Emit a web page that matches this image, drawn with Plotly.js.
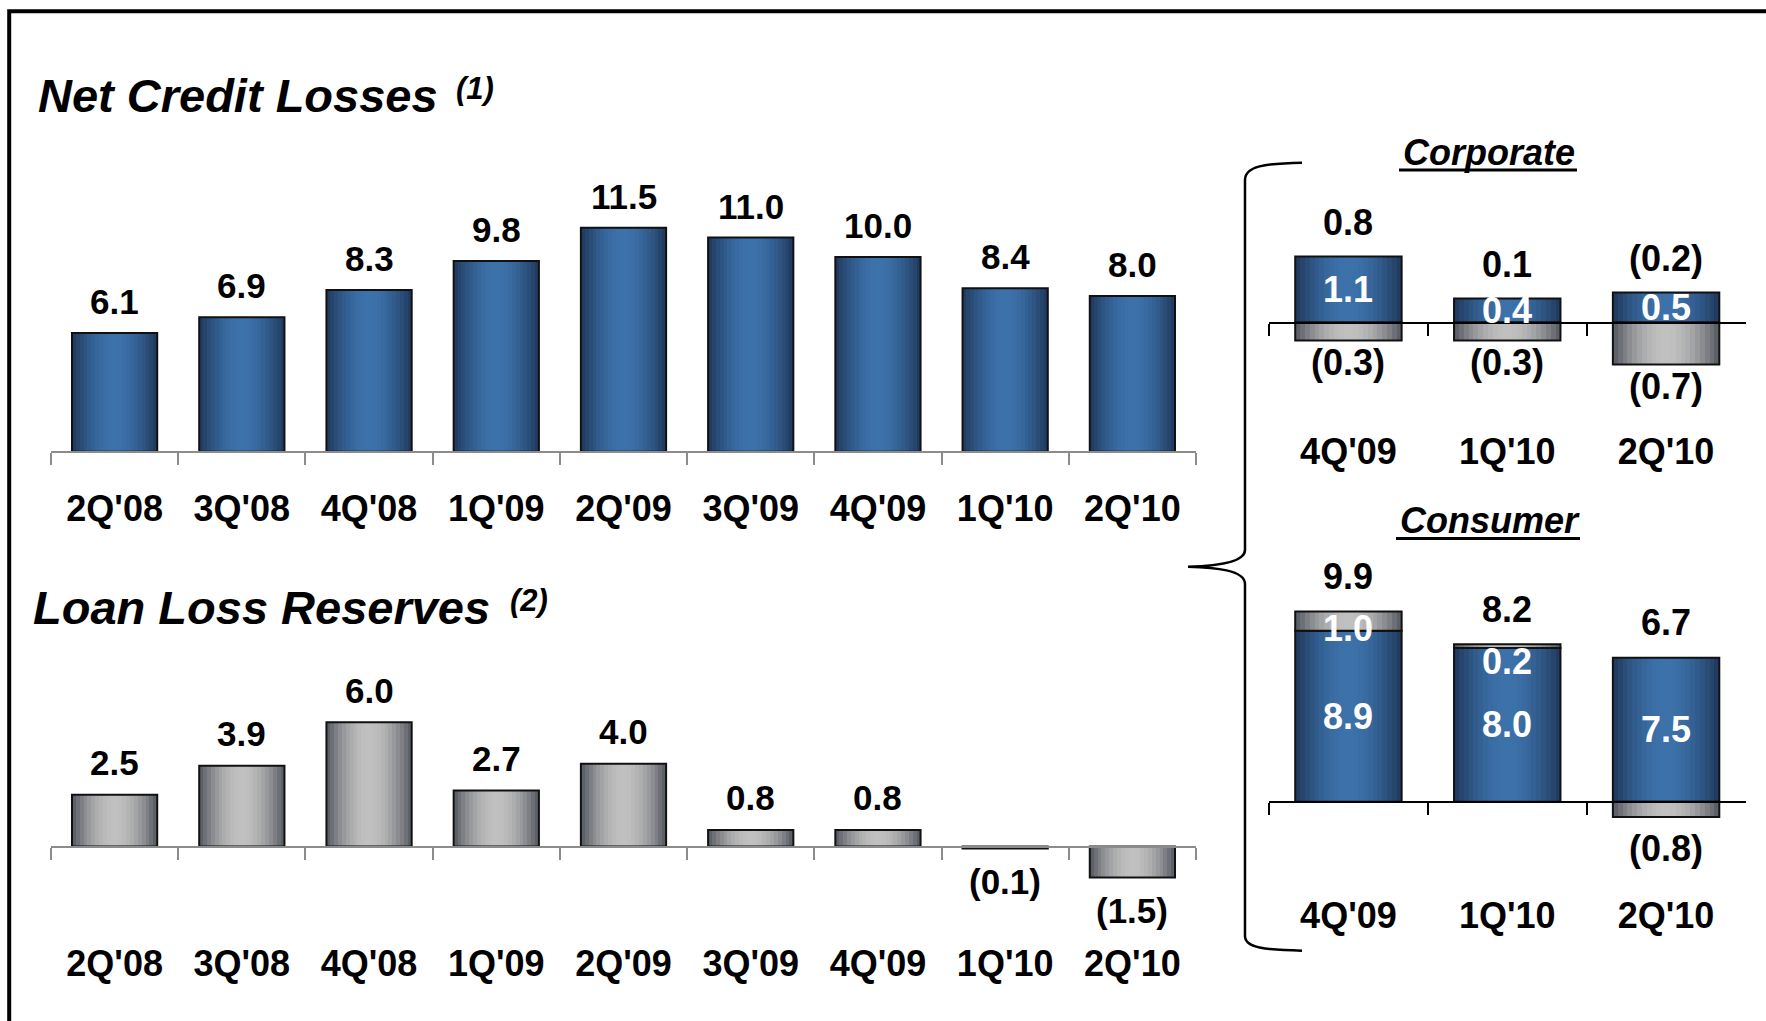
<!DOCTYPE html>
<html><head><meta charset="utf-8">
<script src="https://cdn.plot.ly/plotly-3.0.1.min.js"></script>
<style>html,body{margin:0;padding:0;background:#fff;}#chart{width:1766px;height:1021px;}</style>
</head><body><div id="chart"></div>
<script>
// ---------------- data ----------------
const nclQuarters = ["2Q'08","3Q'08","4Q'08","1Q'09","2Q'09","3Q'09","4Q'09","1Q'10","2Q'10"];
const nclValues   = [6.1, 6.9, 8.3, 9.8, 11.5, 11.0, 10.0, 8.4, 8.0];
const llrQuarters = ["2Q'08","3Q'08","4Q'08","1Q'09","2Q'09","3Q'09","4Q'09","1Q'10","2Q'10"];
const llrValues   = [2.5, 3.9, 6.0, 2.7, 4.0, 0.8, 0.8, -0.1, -1.5];
const segQuarters = ["4Q'09","1Q'10","2Q'10"];
const corpNcl   = [1.1, 0.4, 0.5];
const corpLlr   = [-0.3, -0.3, -0.7];
const corpTotal = [0.8, 0.1, -0.2];
const consNcl   = [8.9, 8.0, 7.5];
const consLlr   = [1.0, 0.2, -0.8];
const consTotal = [9.9, 8.2, 6.7];

// ---------------- helpers ----------------
const W = 1766, H = 1021;
const FONT = 'Liberation Sans, Arial, sans-serif';
const px2x = p => p / W;
const px2y = p => 1 - p / H;
const fmt = v => v < 0 ? '(' + Math.abs(v).toFixed(1) + ')' : v.toFixed(1);
const BLUE_DARK = [31, 54, 88], BLUE_LIGHT = [60, 113, 170];
const GRAY_DARK = [82, 86, 94], GRAY_LIGHT = [192, 192, 192];
const mix = (a, b, f) => 'rgb(' + a.map((v, i) => Math.round(v + (b[i] - v) * f)).join(',') + ')';

function gradBars(xa, ya, cats, vals, base, dark, light, bw) {
  const N = 22, out = [];
  for (let i = 0; i < N; i++) {
    const t = (i + 0.5) / N;
    const f = Math.pow(Math.sin(Math.PI * t), 0.9);
    const off = -bw / 2 + i * bw / N;
    const w = Math.min(bw / N * 1.8, bw / 2 - off);
    out.push({type: 'bar', x: cats, y: vals, base: base, xaxis: xa, yaxis: ya,
      width: w, offset: off, marker: {color: mix(dark, light, f), line: {width: 0}},
      hoverinfo: 'skip', showlegend: false});
  }
  out.push({type: 'bar', x: cats, y: vals, base: base, xaxis: xa, yaxis: ya,
    width: bw, offset: -bw / 2, marker: {color: 'rgba(0,0,0,0)', line: {color: '#111', width: 2}},
    hoverinfo: 'skip', showlegend: false});
  return out;
}

function yAx(baseline, ppu, top, bottom) {
  return {domain: [px2y(bottom), px2y(top)], range: [-(bottom - baseline) / ppu, (baseline - top) / ppu],
    visible: false, fixedrange: true};
}
function xAx(left, right, baseline, n, color, standoff) {
  return {domain: [px2x(left), px2x(right)], type: 'category', range: [-0.5, n - 0.5],
    anchor: 'free', position: px2y(baseline), tickson: 'boundaries', ticks: 'outside',
    ticklen: 12, tickwidth: 2, tickcolor: color, showline: true, linecolor: color, linewidth: 2.5,
    showgrid: false, zeroline: false, fixedrange: true, ticklabelstandoff: Math.round(standoff),
    tickfont: {family: FONT, size: 36, color: '#000', weight: 'bold'}};
}

// geometry (pixels)
const NCL = {base: 451.7, ppu: 19.47, top: 150, bottom: 470};
const LLR = {base: 846.5, ppu: 20.7, top: 640, bottom: 900};
const CORP = {base: 322.5, ppu: 60, top: 190, bottom: 400};
const CONS = {base: 801.7, ppu: 19.2, top: 560, bottom: 860};
const BW = 0.67;

let traces = [];
traces = traces.concat(gradBars('x', 'y', nclQuarters, nclValues, 0, BLUE_DARK, BLUE_LIGHT, BW));
traces = traces.concat(gradBars('x2', 'y2', llrQuarters, llrValues, 0, GRAY_DARK, GRAY_LIGHT, BW));
traces = traces.concat(gradBars('x3', 'y3', segQuarters, corpNcl, 0, BLUE_DARK, BLUE_LIGHT, BW));
traces = traces.concat(gradBars('x3', 'y3', segQuarters, corpLlr, corpLlr.map((v, i) => v > 0 ? corpNcl[i] : 0), GRAY_DARK, GRAY_LIGHT, BW));
traces = traces.concat(gradBars('x4', 'y4', segQuarters, consNcl, 0, BLUE_DARK, BLUE_LIGHT, BW));
traces = traces.concat(gradBars('x4', 'y4', segQuarters, consLlr, consLlr.map((v, i) => v > 0 ? consNcl[i] : 0), GRAY_DARK, GRAY_LIGHT, BW));

const ann = [];
const lab = (xref, yref, x, y, text, shift, color, size) => ann.push({xref, yref, x, y, text, showarrow: false,
  xanchor: 'center', yanchor: 'middle', yshift: shift, font: {family: FONT, size: size || 35, color: color || '#000', weight: 'bold'}});

nclQuarters.forEach((q, i) => lab('x', 'y', q, nclValues[i], fmt(nclValues[i]), 31.5));
llrQuarters.forEach((q, i) => lab('x2', 'y2', q, llrValues[i], fmt(llrValues[i]), llrValues[i] >= 0 ? 32 : -33));
segQuarters.forEach((q, i) => {
  const posTop = corpNcl[i] + Math.max(corpLlr[i], 0);
  const negBot = Math.min(corpLlr[i], 0);
  lab('x3', 'y3', q, posTop, fmt(corpTotal[i]), 34, '#000', 36);
  lab('x3', 'y3', q, corpNcl[i] / 2, fmt(corpNcl[i]), 0, '#fff', 36);
  lab('x3', 'y3', q, negBot, fmt(corpLlr[i]), -22, '#000', 36);
});
segQuarters.forEach((q, i) => {
  const posTop = consNcl[i] + Math.max(consLlr[i], 0);
  lab('x4', 'y4', q, posTop, fmt(consTotal[i]), 35, '#000', 36);
  lab('x4', 'y4', q, consNcl[i] / 2, fmt(consNcl[i]), 0, '#fff', 36);
  if (consLlr[i] > 0) lab('x4', 'y4', q, posTop, fmt(consLlr[i]), -17, '#fff', 36);
  else lab('x4', 'y4', q, consLlr[i], fmt(consLlr[i]), -31, '#000', 36);
});

// titles
const title = (text, xpx, bottomPx, size, anchor) => ann.push({xref: 'paper', yref: 'paper', x: px2x(xpx), y: px2y(bottomPx),
  xanchor: anchor, yanchor: 'bottom', text, showarrow: false,
  font: {family: FONT, size, color: '#000', weight: 'bold', style: 'italic'}});
title('Net Credit Losses', 36, 124.3, 47, 'left');
title('(1)', 454, 108, 31, 'left');
title('Loan Loss Reserves', 30.5, 636, 47, 'left');
title('(2)', 508, 620, 31, 'left');
title('Corporate', 1488.5, 175.5, 36, 'center');
title('Consumer', 1489.5, 543, 36, 'center');

// decorative shapes
const P = (x, y) => px2x(x).toFixed(5) + ',' + px2y(y).toFixed(5);
const brace = 'M' + P(1302, 162.7) + ' C' + P(1265, 163.5) + ' ' + P(1245, 166) + ' ' + P(1245, 180) +
  ' L' + P(1245, 550) + ' C' + P(1245, 563) + ' ' + P(1215, 566) + ' ' + P(1188, 566.7) +
  ' C' + P(1215, 567.5) + ' ' + P(1245, 570) + ' ' + P(1245, 584) +
  ' L' + P(1245, 936) + ' C' + P(1245, 948) + ' ' + P(1265, 950) + ' ' + P(1302, 950.7);
const shapes = [
  {type: 'rect', xref: 'paper', yref: 'paper', x0: px2x(9.2), x1: 1.05, y0: -0.05, y1: px2y(11.3),
    line: {color: '#000', width: 4}, fillcolor: 'rgba(0,0,0,0)', layer: 'below'},
  {type: 'path', xref: 'paper', yref: 'paper', path: brace, line: {color: '#000', width: 2.5}},
  {type: 'line', xref: 'paper', yref: 'paper', x0: px2x(1399), x1: px2x(1577), y0: px2y(170), y1: px2y(170), line: {color: '#000', width: 3}},
  {type: 'line', xref: 'paper', yref: 'paper', x0: px2x(1396), x1: px2x(1580), y0: px2y(538.5), y1: px2y(538.5), line: {color: '#000', width: 3}}
];

const layout = {
  width: W, height: H, margin: {l: 0, r: 0, t: 0, b: 0}, paper_bgcolor: '#fff', plot_bgcolor: 'rgba(0,0,0,0)',
  showlegend: false, barmode: 'overlay', bargap: 0,
  xaxis: xAx(51, 1196, NCL.base, 9, '#8c8c8c', 25),
  yaxis: yAx(NCL.base, NCL.ppu, NCL.top, NCL.bottom),
  xaxis2: xAx(51, 1196, LLR.base, 9, '#8c8c8c', 85),
  yaxis2: yAx(LLR.base, LLR.ppu, LLR.top, LLR.bottom),
  xaxis3: xAx(1269, 1745.5, CORP.base, 3, '#000', 97),
  yaxis3: yAx(CORP.base, CORP.ppu, CORP.top, CORP.bottom),
  xaxis4: xAx(1269, 1745.5, CONS.base, 3, '#000', 82),
  yaxis4: yAx(CONS.base, CONS.ppu, CONS.top, CONS.bottom),
  annotations: ann, shapes: shapes
};
Plotly.newPlot('chart', traces, layout, {displayModeBar: false, staticPlot: true});
</script></body></html>
